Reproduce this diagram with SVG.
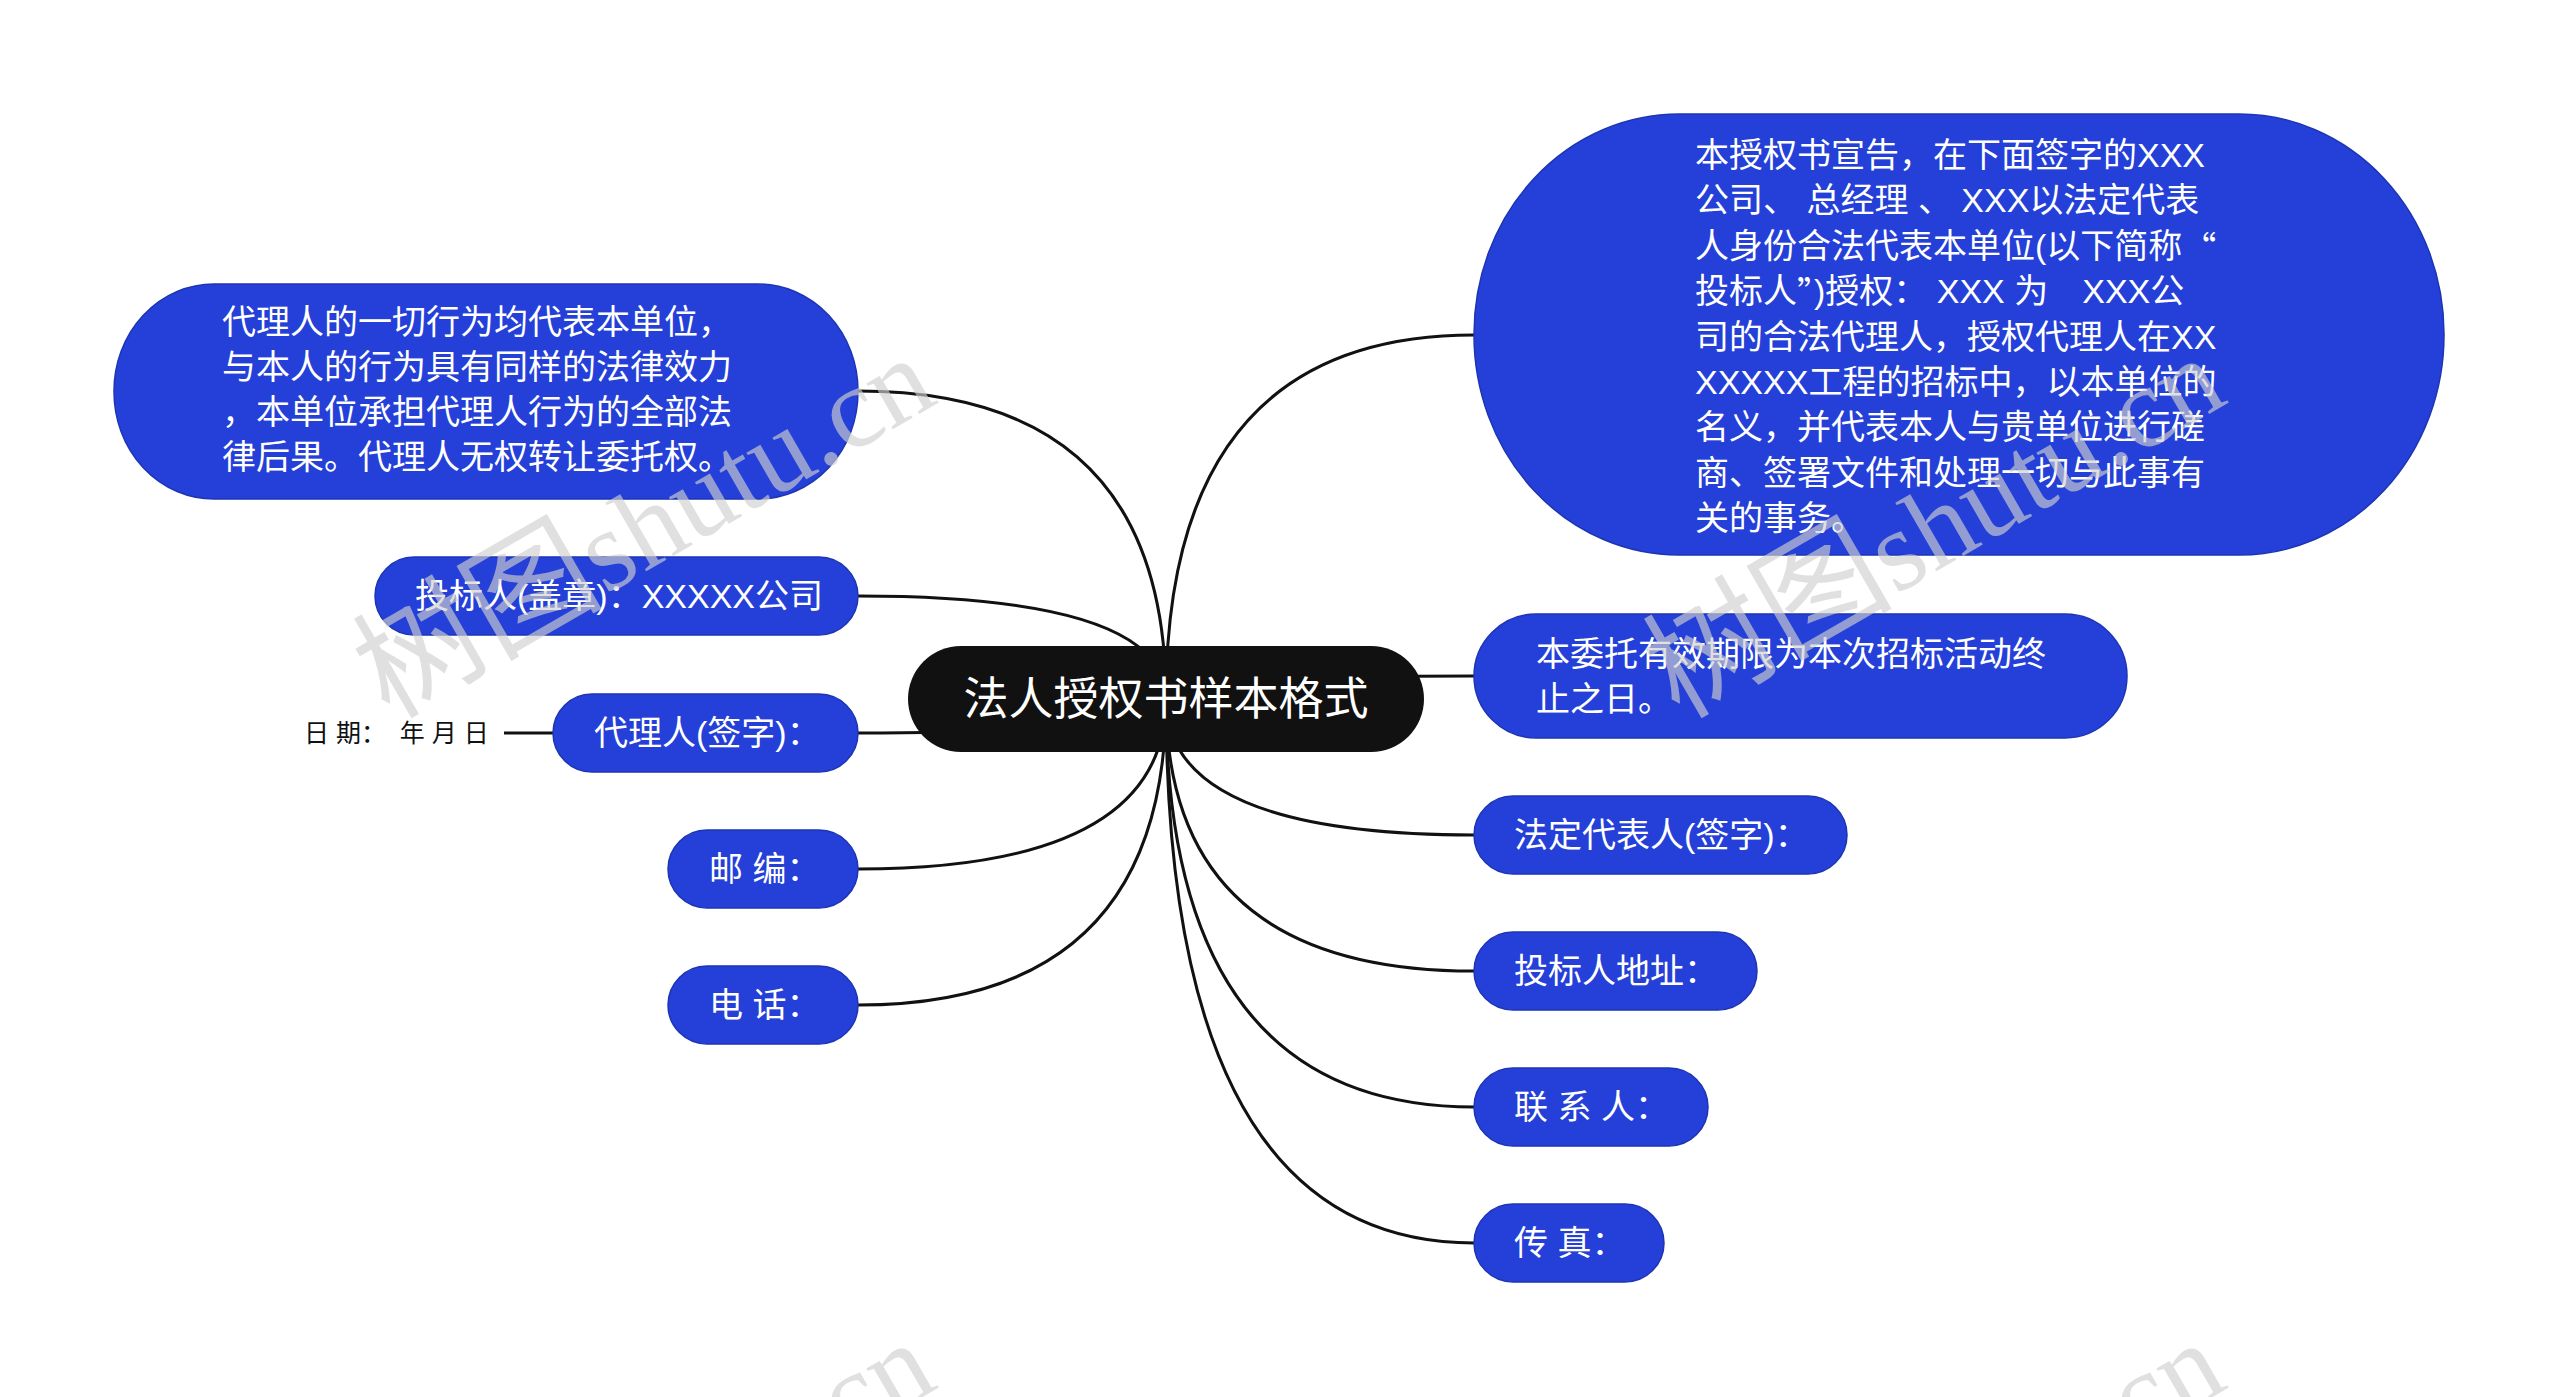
<svg xmlns="http://www.w3.org/2000/svg" width="2560" height="1397" viewBox="0 0 2560 1397">
<style>
.n rect{fill:#2440d8;stroke:#1d35b3;stroke-width:1.5}
.root rect{fill:#111111}
.t{font-family:"Liberation Sans","Noto Sans CJK SC",sans-serif;font-size:34px;fill:#ffffff;dominant-baseline:central}
.rt{font-family:"Liberation Sans","Noto Sans CJK SC",sans-serif;font-size:45px;fill:#ffffff;dominant-baseline:central;text-anchor:middle}
.cjk{font-family:"Noto Sans CJK SC",sans-serif}
.lbl{font-family:"Liberation Sans","Noto Sans CJK SC",sans-serif;font-size:25px;fill:#111111;dominant-baseline:central}
.links path{fill:none;stroke:#111111;stroke-width:3}
.wm{font-family:"Liberation Serif","Noto Sans CJK SC",serif;font-size:115px;fill:#cfcfcf;fill-opacity:0.65}
.wm .big{font-size:125px}
</style>
<rect width="2560" height="1397" fill="#ffffff"/>
<g class="links" id="connectors">
<path d="M1166 699 Q1166 391 858 391"/>
<path d="M1166 699 Q1166 596 858 596"/>
<path d="M1166 699 Q1166 733 858 733"/>
<path d="M1166 699 Q1166 869 858 869"/>
<path d="M1166 699 Q1166 1005 858 1005"/>
<path d="M1166 699 Q1166 335 1474 335"/>
<path d="M1166 699 Q1166 676 1474 676"/>
<path d="M1166 699 Q1166 835 1474 835"/>
<path d="M1166 699 Q1166 971 1474 971"/>
<path d="M1166 699 Q1166 1107 1474 1107"/>
<path d="M1166 699 Q1166 1243 1474 1243"/>
<path d="M504 733 L553 733"/>
</g>
<g id="root" class="root">
<rect x="908" y="646" width="516" height="106" rx="53"/>
<text class="rt" x="1166" y="699">法人授权书样本格式</text>
</g>
<g id="n-left-1" class="n">
<rect x="114" y="284" width="744" height="215" rx="100" ry="107"/>
<text class="t" x="222" y="322">代理人的一切行为均代表本单位，</text>
<text class="t" x="222" y="367">与本人的行为具有同样的法律效力</text>
<text class="t" x="222" y="412">，本单位承担代理人行为的全部法</text>
<text class="t" x="222" y="457">律后果。代理人无权转让委托权。</text>
</g>
<g id="n-left-2" class="n">
<rect x="375" y="557" width="483" height="78" rx="39"/>
<text class="t" x="415" y="596">投标人(盖章)：XXXXX公司</text>
</g>
<g id="n-left-3" class="n">
<rect x="553" y="694" width="305" height="78" rx="39"/>
<text class="t" x="594" y="733">代理人(签字)：</text>
</g>
<g id="n-date">
<text class="lbl" x="304" y="733" xml:space="preserve">日 期：  年 月 日</text>
</g>
<g id="n-left-4" class="n">
<rect x="668" y="830" width="190" height="78" rx="39"/>
<text class="t" x="709" y="869">邮 编：</text>
</g>
<g id="n-left-5" class="n">
<rect x="668" y="966" width="190" height="78" rx="39"/>
<text class="t" x="709" y="1005">电 话：</text>
</g>
<g id="n-right-1" class="n">
<rect x="1474" y="114" width="970" height="441" rx="205" ry="220"/>
<text class="t" x="1695" y="155">本授权书宣告，在下面签字的XXX</text>
<text class="t" x="1695" y="200">公司、 总经理 、 XXX以法定代表</text>
<text class="t" x="1695" y="246">人身份合法代表本单位(以下简称<tspan class="cjk">“</tspan></text>
<text class="t" x="1695" y="291">投标人<tspan class="cjk">”</tspan>)授权： XXX 为　XXX公</text>
<text class="t" x="1695" y="337">司的合法代理人，授权代理人在XX</text>
<text class="t" x="1695" y="382">XXXXX工程的招标中，以本单位的</text>
<text class="t" x="1695" y="427">名义，并代表本人与贵单位进行磋</text>
<text class="t" x="1695" y="473">商、签署文件和处理一切与此事有</text>
<text class="t" x="1695" y="518">关的事务。</text>
</g>
<g id="n-right-2" class="n">
<rect x="1474" y="614" width="653" height="124" rx="62"/>
<text class="t" x="1536" y="654">本委托有效期限为本次招标活动终</text>
<text class="t" x="1536" y="699">止之日。</text>
</g>
<g id="n-right-3" class="n">
<rect x="1474" y="796" width="373" height="78" rx="39"/>
<text class="t" x="1514" y="835">法定代表人(签字)：</text>
</g>
<g id="n-right-4" class="n">
<rect x="1474" y="932" width="283" height="78" rx="39"/>
<text class="t" x="1514" y="971">投标人地址：</text>
</g>
<g id="n-right-5" class="n">
<rect x="1474" y="1068" width="234" height="78" rx="39"/>
<text class="t" x="1514" y="1107">联 系 人：</text>
</g>
<g id="n-right-6" class="n">
<rect x="1474" y="1204" width="190" height="78" rx="39"/>
<text class="t" x="1514" y="1243">传 真：</text>
</g>
<g id="watermark" class="wm">
<text transform="translate(389,720) rotate(-30)"><tspan class="big">树图</tspan>shutu.cn</text>
<text transform="translate(1679,720) rotate(-30)"><tspan class="big">树图</tspan>shutu.cn</text>
<text transform="translate(389,1705) rotate(-30)"><tspan class="big">树图</tspan>shutu.cn</text>
<text transform="translate(1679,1705) rotate(-30)"><tspan class="big">树图</tspan>shutu.cn</text>
</g>
</svg>
